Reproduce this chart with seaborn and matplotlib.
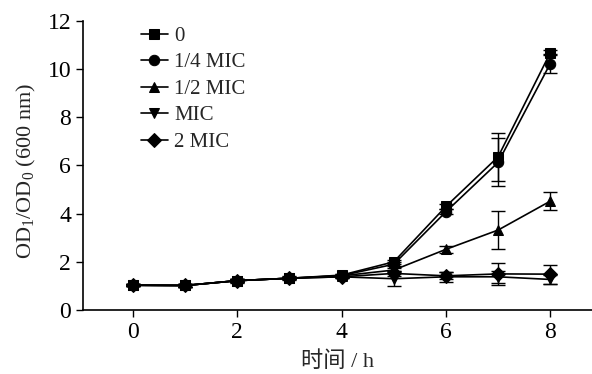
import matplotlib
matplotlib.use("Agg")
import matplotlib.pyplot as plt
import numpy as np
import pandas as pd
import seaborn as sns

# time points (h)
hours = [0, 1, 2, 3, 4, 5, 6, 7, 8]
groups = ["0", "1/4 MIC", "1/2 MIC", "MIC", "2 MIC"]

od_0 = [1.03, 1.02, 1.22, 1.32, 1.45, 2.0, 4.3, 6.36, 10.68]
od_quarter = [1.03, 1.02, 1.22, 1.32, 1.43, 1.9, 4.08, 6.13, 10.23]
od_half = [1.03, 1.02, 1.22, 1.32, 1.42, 1.66, 2.52, 3.32, 4.52]
od_mic = [1.03, 1.02, 1.22, 1.32, 1.38, 1.3, 1.38, 1.38, 1.27]
od_2mic = [1.03, 1.02, 1.22, 1.32, 1.38, 1.52, 1.42, 1.5, 1.49]

err_0 = [0.05, 0.05, 0.05, 0.05, 0.05, 0.08, 0.1, 1.0, 0.1]
err_quarter = [0.05, 0.05, 0.05, 0.05, 0.05, 0.08, 0.1, 1.0, 0.4]
err_half = [0.05, 0.05, 0.05, 0.05, 0.05, 0.08, 0.15, 0.8, 0.38]
err_mic = [0.05, 0.05, 0.08, 0.08, 0.05, 0.3, 0.2, 0.25, 0.2]
err_2mic = [0.05, 0.05, 0.05, 0.05, 0.05, 0.1, 0.15, 0.45, 0.4]

series = [od_0, od_quarter, od_half, od_mic, od_2mic]
errors = [err_0, err_quarter, err_half, err_mic, err_2mic]
markers = ["s", "o", "^", "v", "D"]

rows = []
for g, vals, errs in zip(groups, series, errors):
    for h, v, e in zip(hours, vals, errs):
        rows.append({"hour": h, "od": v, "err": e, "group": g})
df = pd.DataFrame(rows)

sns.set_style("ticks")
plt.rcParams["font.family"] = ["Liberation Serif", "Noto Sans CJK SC"]
plt.rcParams["mathtext.fontset"] = "custom"
plt.rcParams["mathtext.rm"] = "Liberation Serif"
plt.rcParams["mathtext.it"] = "Liberation Serif"

fig = plt.figure(figsize=(5.92, 3.74), dpi=100)
ax = fig.add_axes([0.140, 0.171, 0.86, 0.773])

for g, m in zip(groups, markers):
    sub = df[df["group"] == g]
    ax.errorbar(sub["hour"], sub["od"], yerr=sub["err"], fmt="none",
                ecolor="black", elinewidth=1.0, capsize=5, capthick=1.0)

sns.lineplot(data=df, x="hour", y="od", hue="group", style="group",
             markers=dict(zip(groups, markers)), dashes=False,
             palette=["black"] * 5, hue_order=groups, style_order=groups,
             markersize=7.5, linewidth=1.2, markeredgecolor="black",
             errorbar=None, ax=ax)

ax.set_xlim(-0.96, 8.8)
ax.set_ylim(0, 12)
ax.set_xticks([0, 2, 4, 6, 8])
ax.set_yticks([0, 2, 4, 6, 8, 10, 12])
ax.tick_params(direction="out", length=5, width=1, labelsize=17, colors="black")
for s in ["left", "bottom"]:
    ax.spines[s].set_linewidth(1.2)
    ax.spines[s].set_color("black")
sns.despine(ax=ax)

ax.set_xlabel("时间 / h", fontsize=16, labelpad=6)
ax.set_ylabel("OD$_1$/OD$_0$ (600 nm)", fontsize=16)
ax.yaxis.set_label_coords(-0.088, 0.48)

ax.legend(loc="upper left", bbox_to_anchor=(0.097, 1.01), frameon=False,
          fontsize=15, handlelength=1.3, handletextpad=0.3,
          labelspacing=0.33, borderaxespad=0)

fig.savefig("out.png", dpi=100)
